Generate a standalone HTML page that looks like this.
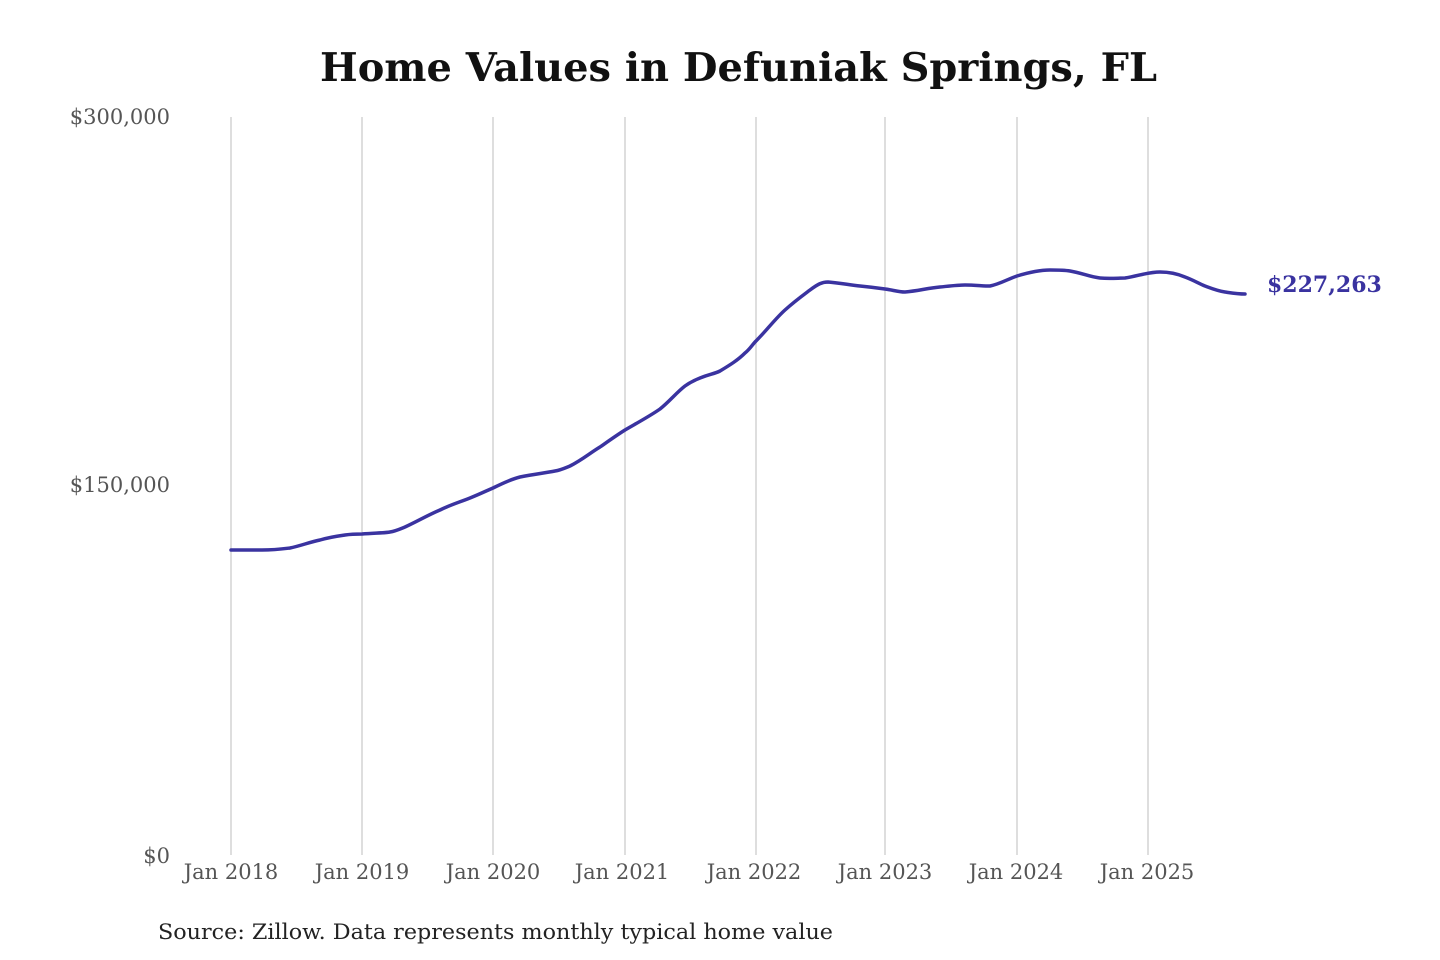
<!DOCTYPE html>
<html><head><style>
html,body{margin:0;padding:0;background:#fff;}
svg{display:block;}
</style></head><body>
<svg width="1440" height="960" viewBox="0 0 1440 960" xmlns="http://www.w3.org/2000/svg" font-family="'DejaVu Serif','Liberation Serif',serif">
<text x="320" y="81" font-size="39" font-weight="bold" fill="#111" textLength="837" lengthAdjust="spacingAndGlyphs">Home Values in Defuniak Springs, FL</text>
<g stroke="#c8c8c8" stroke-width="1.2">
<line x1="231" y1="117" x2="231" y2="855"/>
<line x1="362" y1="117" x2="362" y2="855"/>
<line x1="493" y1="117" x2="493" y2="855"/>
<line x1="625" y1="117" x2="625" y2="855"/>
<line x1="756" y1="117" x2="756" y2="855"/>
<line x1="885" y1="117" x2="885" y2="855"/>
<line x1="1017" y1="117" x2="1017" y2="855"/>
<line x1="1148" y1="117" x2="1148" y2="855"/>
</g>
<g font-size="21" fill="#555" text-anchor="end">
<text x="170" y="124">$300,000</text>
<text x="170" y="492">$150,000</text>
<text x="170" y="863">$0</text>
</g>
<g font-size="21" fill="#555" text-anchor="middle">
<text x="231" y="879">Jan 2018</text>
<text x="362" y="879">Jan 2019</text>
<text x="493" y="879">Jan 2020</text>
<text x="622" y="879">Jan 2021</text>
<text x="754" y="879">Jan 2022</text>
<text x="885" y="879">Jan 2023</text>
<text x="1016" y="879">Jan 2024</text>
<text x="1147" y="879">Jan 2025</text>
</g>
<path fill="none" stroke="#3a33a0" stroke-width="3.5" stroke-linejoin="round" stroke-linecap="round"
d="M231,550 C245,550 252,550 262,550 C275,550 282,549 290,548 C300,546 310,542 320,540 C330,537 338,536 345,535 C352,534 357,534 362,534 C375,533 385,533 390,532 C396,531 400,529 405,527 C418,521 428,515 440,510 C450,505 460,502 470,498 C480,494 486,491 493,488 C503,483 512,479 520,477 C535,474 545,473 555,471 C561,470 565,468 570,466 C582,460 590,453 600,447 C610,440 617,435 625,430 C637,423 650,416 660,409 C670,401 677,392 685,386 C692,381 695,380 700,378 C710,374 714,374 720,371 C730,365 738,360 745,353 C750,349 752,345 756,341 C767,330 775,319 785,310 C795,301 802,296 810,290 C818,284 822,282 828,282 C840,283 850,285 860,286 C870,287 878,288 885,289 C893,290 898,292 905,292 C918,291 928,288 940,287 C950,286 958,285 965,285 C975,285 983,286 990,286 C1000,284 1008,279 1017,276 C1030,272 1040,270 1050,270 C1058,270 1064,270 1070,271 C1082,273 1090,277 1100,278 C1110,279 1118,278 1125,278 C1138,276 1148,272 1160,272 C1170,272 1178,274 1185,277 C1193,280 1198,283 1205,286 C1213,289 1218,291 1225,292 C1232,293 1238,294 1245,294"/>
<text x="1267" y="292" font-size="22" font-weight="bold" fill="#3a33a0">$227,263</text>
<text x="158" y="939" font-size="21" fill="#222" textLength="675" lengthAdjust="spacingAndGlyphs">Source: Zillow. Data represents monthly typical home value</text>
</svg>
</body></html>
